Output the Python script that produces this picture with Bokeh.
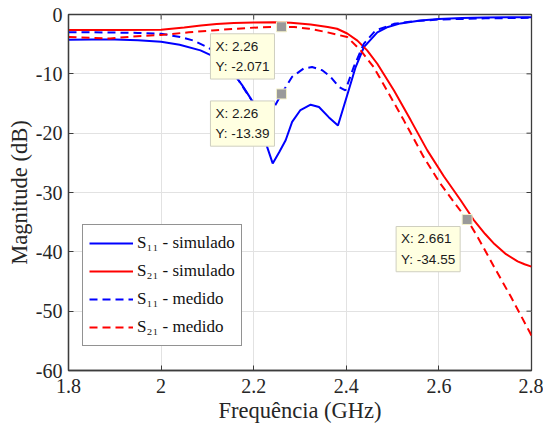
import math
from bokeh.plotting import figure
from bokeh.models import Legend, LegendItem, Label, FixedTicker, Range1d
from bokeh.embed import file_html
from bokeh.resources import INLINE

# ---------------- data ----------------
f_s11_sim = [1.80, 1.85, 1.90, 1.95, 2.00, 2.04, 2.085, 2.12, 2.14, 2.157, 2.175, 2.193, 2.21,
             2.229, 2.241, 2.255, 2.269, 2.283, 2.301, 2.323, 2.341, 2.362, 2.382, 2.405, 2.42,
             2.438, 2.467, 2.49, 2.517, 2.56, 2.60, 2.65, 2.70, 2.75, 2.80]
s11_sim = [-4.25, -4.2, -4.2, -4.35, -4.6, -5.1, -6.05, -7.3, -8.5, -10.0, -11.9, -14.1, -17.0,
           -22.3, -25.1, -23.2, -21.2, -18.1, -16.1, -15.2, -15.6, -17.3, -18.7, -12.8, -8.9,
           -5.5, -3.0, -2.1, -1.5, -1.0, -0.75, -0.6, -0.5, -0.45, -0.45]

f_s21_sim = [1.80, 1.90, 2.00, 2.05, 2.086, 2.12, 2.157, 2.20, 2.243, 2.28, 2.323, 2.36, 2.38,
             2.402, 2.424, 2.445, 2.467, 2.503, 2.539, 2.575, 2.611, 2.647, 2.675, 2.70, 2.72,
             2.745, 2.77, 2.785, 2.80]
s21_sim = [-2.6, -2.6, -2.55, -2.2, -1.85, -1.6, -1.45, -1.35, -1.3, -1.4, -1.7, -2.1, -2.4,
           -3.2, -4.4, -6.05, -8.3, -12.8, -17.8, -22.9, -27.3, -31.3, -34.6, -37.0, -38.7,
           -40.4, -41.6, -42.1, -42.5]

f_s11_med = [1.80, 1.85, 1.90, 1.95, 2.00, 2.042, 2.07, 2.10, 2.13, 2.16, 2.19, 2.215, 2.232,
             2.245, 2.26, 2.283, 2.308, 2.326, 2.348, 2.366, 2.384, 2.398, 2.416, 2.438, 2.463,
             2.503, 2.55, 2.60, 2.70, 2.80]
s11_med = [-3.0, -3.0, -3.05, -3.1, -3.25, -3.8, -4.4, -5.5, -7.0, -10.2, -13.8, -16.5, -17.0,
           -15.5, -13.39, -10.5, -9.1, -8.85, -9.4, -10.5, -12.2, -12.8, -8.85, -4.9, -2.7,
           -1.57, -1.1, -0.85, -0.65, -0.56]

f_s21_med = [1.80, 1.85, 1.89, 1.94, 2.00, 2.06, 2.11, 2.16, 2.215, 2.26, 2.287, 2.32, 2.359,
             2.402, 2.431, 2.459, 2.488, 2.524, 2.567, 2.603, 2.639, 2.661, 2.683, 2.719, 2.755,
             2.80]
s21_med = [-3.8, -3.95, -4.05, -3.7, -3.45, -3.0, -2.7, -2.4, -2.15, -2.071, -2.1, -2.4, -3.0,
           -3.8, -6.05, -8.85, -12.8, -17.8, -24.0, -28.5, -32.3, -34.55, -37.4, -42.5, -47.5,
           -54.1]

series_labels = ["S\u2081\u2081 - simulado", "S\u2082\u2081 - simulado",
                 "S\u2081\u2081 - medido", "S\u2082\u2081 - medido"]

tip_x = [2.26, 2.26, 2.661]
tip_y = [-2.071, -13.39, -34.55]

x_ticks = [1.8, 2.0, 2.2, 2.4, 2.6, 2.8]
x_tick_labels = ["1.8", "2", "2.2", "2.4", "2.6", "2.8"]
y_ticks = [-60, -50, -40, -30, -20, -10, 0]
y_tick_labels = ["-60", "-50", "-40", "-30", "-20", "-10", "0"]

x_title = "Frequência (GHz)"
y_title = "Magnitude (dB)"

# ---------------- figure ----------------
SERIF = "'Liberation Serif'"
AX = "#3c3c3c"
x0, x1 = x_ticks[0], x_ticks[-1]
y0, y1 = y_ticks[0], y_ticks[-1]

p = figure(width=543, height=428, output_backend="svg", toolbar_location=None,
           x_range=Range1d(x0, x1), y_range=Range1d(y0, y1),
           min_border_left=68, min_border_right=12, min_border_top=14, min_border_bottom=58)
p.background_fill_color = "white"
p.border_fill_color = "white"
p.outline_line_color = AX
p.outline_line_width = 1.3

xt = FixedTicker(ticks=x_ticks)
yt = FixedTicker(ticks=y_ticks)
xa = p.xaxis[0]
ya = p.yaxis[0]
xa.ticker = xt
ya.ticker = yt

for ax in (xa, ya):
    ax.axis_line_color = AX
    ax.axis_line_width = 1.3
    ax.major_tick_line_color = AX
    ax.major_tick_line_width = 1
    ax.major_tick_in = 5
    ax.major_tick_out = 0
    ax.minor_tick_line_color = None
    ax.major_label_text_font = SERIF
    ax.major_label_text_font_size = "20px"
    ax.major_label_text_color = "#262626"
    ax.axis_label_text_font = SERIF
    ax.axis_label_text_font_size = "22.5px"
    ax.axis_label_text_font_style = "normal"
    ax.axis_label_text_color = "#262626"

xa.major_label_overrides = {t: l for t, l in zip(x_ticks, x_tick_labels)}
ya.major_label_overrides = {t: l for t, l in zip(y_ticks, y_tick_labels)}
xa.major_label_standoff = 8
ya.major_label_standoff = 6

xa.axis_label = x_title
xa.axis_label_standoff = 2
ya.axis_label = y_title
ya.axis_label_standoff = 1

for g in (p.xgrid, p.ygrid):
    g.grid_line_color = "#e2e2e2"
    g.grid_line_width = 1
p.xgrid.ticker = xt
p.ygrid.ticker = yt

# inward ticks on the top and right edges of the box (clipped to the frame)
p.scatter(x_ticks, [y1] * len(x_ticks), marker="dash", size=10, angle=math.pi / 2,
          line_color=AX, line_width=1)
p.scatter([x1] * len(y_ticks), y_ticks, marker="dash", size=10,
          line_color=AX, line_width=1)

# ---------------- curves ----------------
BLUE = "#0000ff"
RED = "#ff0000"
DASH = "8 5"
r1 = p.line(f_s11_sim, s11_sim, line_color=BLUE, line_width=2)
r2 = p.line(f_s21_sim, s21_sim, line_color=RED, line_width=2)
r3 = p.line(f_s11_med, s11_med, line_color=BLUE, line_width=2, line_dash=DASH)
r4 = p.line(f_s21_med, s21_med, line_color=RED, line_width=2, line_dash=DASH)

legend = Legend(items=[LegendItem(label=l, renderers=[r]) for l, r in zip(series_labels, [r1, r2, r3, r4])],
                location=(14, 24))
legend.label_text_font = SERIF
legend.label_text_font_size = "17px"
legend.label_text_color = "#111111"
legend.glyph_width = 44
legend.glyph_height = 24
legend.label_height = 24
legend.spacing = 4
legend.padding = 6
legend.margin = 0
legend.label_standoff = 4
legend.border_line_color = "#262626"
legend.border_line_width = 1
legend.background_fill_color = "white"
legend.background_fill_alpha = 1
p.add_layout(legend)

# ---------------- data tips ----------------
p.scatter(tip_x, tip_y, marker="square", size=10, fill_color="#9a9a9a",
          line_color="#f3f0c8", line_width=1)
for tx, ty in zip(tip_x, tip_y):
    p.add_layout(Label(x=tx, y=ty, x_offset=-7, y_offset=-7,
                       text=f"X: {tx:g}\nY: {ty:g}", anchor="top_right", text_align="left",
                       text_font="Liberation Sans", text_font_size="13.5px", text_line_height=1.35,
                       text_color="#1a1a1a", background_fill_color="#ffffe1",
                       border_line_color="#cfcfc0", border_line_width=1, padding=5))

open("out.html", "w").write(file_html(p, INLINE))
